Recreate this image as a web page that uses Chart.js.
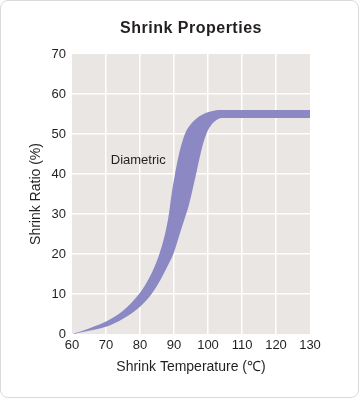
<html>
<head>
<meta charset="UTF-8">
<title>Shrink Properties</title>
<script src="https://cdn.jsdelivr.net/npm/chart.js@4.4.1/dist/chart.umd.min.js"></script>
<style>
body{ margin:0; background:#fff; }
.wrap{ position:relative; width:360px; height:399px; }
.frame{ position:absolute; left:0; top:0; width:359px; height:398px; box-sizing:border-box;
	border:1px solid #dadada; border-radius:8px; pointer-events:none; }
canvas{ position:absolute; left:0; top:0; }
</style>
</head>
<body>
<div class="wrap">
	<canvas id="myChart" width="360" height="399"></canvas>
	<div class="frame"></div>
</div>

<script type="text/javascript">
// upper and lower edge of the "Diametric" band
var upperTemps  = [60, 65, 70, 75, 80, 83, 85.5, 87.5, 88.5, 89.3, 90.3, 91.3, 92.3, 93.3, 94.8, 96.8, 99.5, 102, 104, 130];
var upperRatios = [0, 1.4, 3.1, 5.8, 10.3, 14.5, 19.5, 25.5, 30, 35, 40, 44.3, 47.7, 50.2, 52.3, 54, 55.3, 55.9, 56, 56];
var lowerTemps  = [60, 65, 70, 75, 80, 83.4, 86, 88, 89.8, 91.5, 93, 94.3, 95.3, 96.5, 97.6, 98.6, 99.6, 101, 102.5, 104, 130];
var lowerRatios = [0, 0.8, 1.8, 3.8, 6.8, 10, 13.5, 16.8, 20, 24.5, 28.5, 32, 35.5, 40, 44.3, 47.7, 50.2, 52.3, 53.5, 54, 54];
var xTicks = [60, 70, 80, 90, 100, 110, 120, 130];
var yTicks = [0, 10, 20, 30, 40, 50, 60, 70];
var seriesName = "Diametric";
var nameAt = [71.4, 42.5];

var bandColor = "#8b88c4";
var textColor = "#231f20";
var fontFamily = "'Liberation Sans', Arial, sans-serif";

var toPoints = function(xs, ys){
	var pts = [];
	for (var i = 0; i < xs.length; i++){
		pts.push({x: xs[i], y: ys[i]});
	}
	return pts;
}

var edgeGrid = function(ctx){
	var n = ctx.scale.ticks.length;
	if (ctx.index === 0 || ctx.index === n - 1) return "rgba(0,0,0,0)";
	return "#ffffff";
}

var decorPlugin = {
	id: "decor",
	beforeDraw: function(chart){
		var a = chart.chartArea, c = chart.ctx;
		c.save();
		c.fillStyle = "#e9e6e3";
		c.fillRect(a.left, a.top, a.right - a.left, a.bottom - a.top);
		c.restore();
	},
	afterDraw: function(chart){
		var a = chart.chartArea, c = chart.ctx;
		c.save();
		c.fillStyle = textColor;
		c.textAlign = "center";
		c.textBaseline = "alphabetic";
		c.font = "bold 16px " + fontFamily;
		c.letterSpacing = "0.5px";
		c.fillText("Shrink Properties", (a.left + a.right) / 2, 33);
		c.letterSpacing = "0px";
		c.font = "13px " + fontFamily;
		c.textAlign = "left";
		c.fillText(seriesName, chart.scales.x.getPixelForValue(nameAt[0]), chart.scales.y.getPixelForValue(nameAt[1]));
		c.restore();
	}
}

var ctx = document.getElementById("myChart");
var myChart = new Chart(ctx, {
	type: "line",
	data: {
		datasets: [{
			label: seriesName,
			data: toPoints(upperTemps, upperRatios),
			borderWidth: 0,
			borderColor: bandColor,
			backgroundColor: bandColor,
			pointRadius: 0,
			cubicInterpolationMode: "monotone",
			fill: "+1"
		}, {
			label: seriesName + " low",
			data: toPoints(lowerTemps, lowerRatios),
			borderWidth: 0,
			borderColor: bandColor,
			backgroundColor: bandColor,
			pointRadius: 0,
			cubicInterpolationMode: "monotone",
			fill: false
		}]
	},
	options: {
		responsive: false,
		animation: false,
		layout: { padding: { left: 0, top: 54, right: 50, bottom: 0 } },
		plugins: {
			legend: { display: false },
			tooltip: { enabled: false },
			title: { display: false }
		},
		scales: {
			x: {
				type: "linear",
				min: 60,
				max: 130,
				afterBuildTicks: function(scale){ scale.ticks = xTicks.map(function(v){ return {value: v}; }); },
				afterFit: function(scale){ scale.height = 65; },
				grid: { color: edgeGrid, lineWidth: 1.5, drawTicks: false },
				border: { display: false },
				ticks: { padding: 4, color: textColor, font: { family: fontFamily, size: 13 }, maxRotation: 0 },
				title: { display: true, text: "Shrink Temperature (℃)", color: textColor,
					font: { family: fontFamily, size: 14 }, padding: { top: 0, bottom: 23.6 } }
			},
			y: {
				min: 0,
				max: 70,
				afterBuildTicks: function(scale){ scale.ticks = yTicks.map(function(v){ return {value: v}; }); },
				afterFit: function(scale){ scale.width = 72; },
				grid: { color: edgeGrid, lineWidth: 1.5, drawTicks: false },
				border: { display: false },
				ticks: { padding: 6, color: textColor, font: { family: fontFamily, size: 13 } },
				title: { display: true, text: "Shrink Ratio (%)", color: textColor,
					font: { family: fontFamily, size: 14 }, padding: { top: 27.6, bottom: 0 } }
			}
		}
	},
	plugins: [decorPlugin]
});
</script>
</body>
</html>
